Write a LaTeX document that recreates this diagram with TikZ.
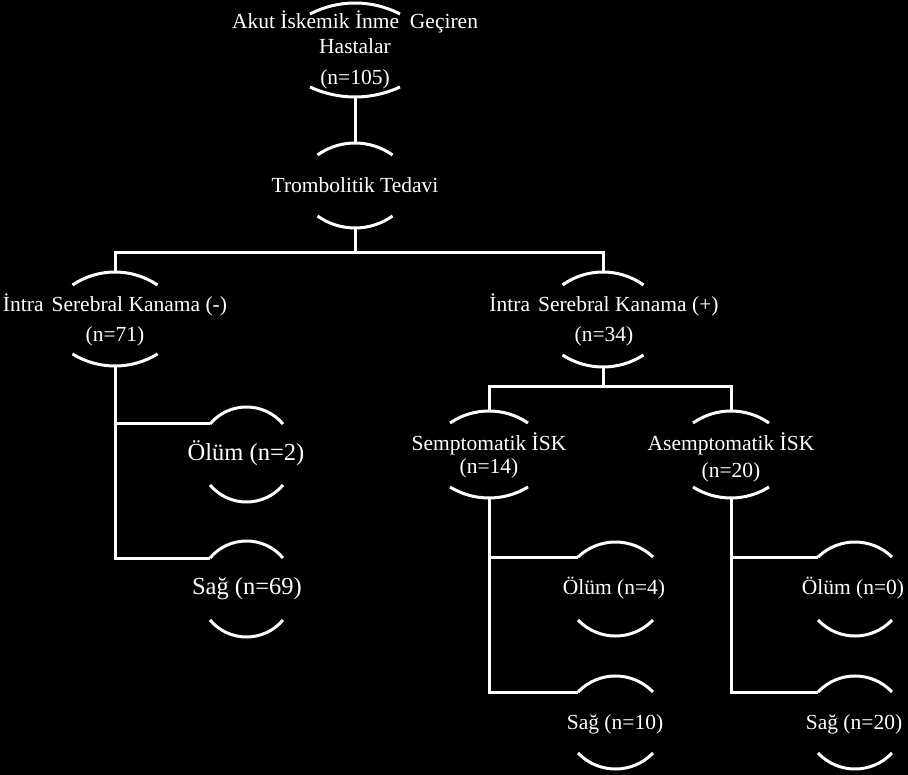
\documentclass[tikz,border=0pt]{standalone}
\usepackage{fontspec}
\setmainfont{Liberation Serif}
\newcommand\toparc[4]{%
 \pgfmathsetmacro\arcR{(#3*#3+#4*#4)/(2*#4)}%
 \pgfmathsetmacro\arcT{asin(#3/\arcR)}%
 \pgfmathsetmacro\arcK{4/3*tan(\arcT/2)*\arcR}%
 \pgfmathsetmacro\arcAx{#1-#3+\arcK*cos(\arcT)}%
 \pgfmathsetmacro\arcBx{#1+#3-\arcK*cos(\arcT)}%
 \pgfmathsetmacro\arcY{#2-\arcK*sin(\arcT)}%
 \draw[arcline] (#1-#3,#2) .. controls (\arcAx,\arcY) and (\arcBx,\arcY) .. (#1+#3,#2);}
\newcommand\botarc[4]{%
 \pgfmathsetmacro\arcR{(#3*#3+#4*#4)/(2*#4)}%
 \pgfmathsetmacro\arcT{asin(#3/\arcR)}%
 \pgfmathsetmacro\arcK{4/3*tan(\arcT/2)*\arcR}%
 \pgfmathsetmacro\arcAx{#1-#3+\arcK*cos(\arcT)}%
 \pgfmathsetmacro\arcBx{#1+#3-\arcK*cos(\arcT)}%
 \pgfmathsetmacro\arcY{#2+\arcK*sin(\arcT)}%
 \draw[arcline] (#1-#3,#2) .. controls (\arcAx,\arcY) and (\arcBx,\arcY) .. (#1+#3,#2);}
\tikzset{
 arcline/.style={draw=white, line width=3pt},
 conn/.style={draw=white, line width=3pt},
 lbl/.style={text=white, font=\fontsize{21.5}{25}\selectfont, align=center, inner sep=0pt},
 biglbl/.style={lbl, font=\fontsize{24.5}{28}\selectfont},
}
\begin{document}
\begin{tikzpicture}[x=1pt,y=-1pt]
\fill[black] (0,0) rectangle (908,775);
\useasboundingbox (0,0) rectangle (908,775);
% labels
\node[lbl] (n1) at (355,50) {Akut İskemik İnme\ \ Geçiren\\Hastalar\\[6pt](n=105)};
\node[lbl] (n2) at (355,185) {Trombolitik Tedavi};
\node[lbl] (n3) at (115,320) {İntra\hspace{8pt}Serebral Kanama (-)\\[5pt](n=71)};
\node[lbl] (n4) at (604,320) {İntra\hspace{8pt}Serebral Kanama (+)\\[5pt](n=34)};
\node[lbl] (n5) at (489,455) {Semptomatik İSK\\[-2pt](n=14)};
\node[lbl] (n6) at (731,457) {Asemptomatik İSK\\[2pt](n=20)};
\node[biglbl] (n7) at (246,453) {Ölüm (n=2)};
\node[biglbl] (n8) at (247,589) {Sağ (n=69)};
\node[lbl] (n9) at (614,588) {Ölüm (n=4)};
\node[lbl] (n10) at (615,724) {Sağ (n=10)};
\node[lbl] (n11) at (853,588) {Ölüm (n=0)};
\node[lbl] (n12) at (854,724) {Sağ (n=20)};
% arcs
\toparc{355}{14}{45}{11} \botarc{355}{87}{45}{10}
\toparc{355}{155}{37.5}{12} \botarc{355}{216}{37.5}{12}
\toparc{115}{285}{42.5}{13} \botarc{115}{354}{42.5}{12}
\toparc{603}{285}{40.5}{13} \botarc{603}{355}{40.5}{12}
\toparc{489}{423}{39}{12} \botarc{489}{487}{39}{11}
\toparc{731}{423}{38}{12} \botarc{731}{487}{38}{11}
\toparc{246.5}{424}{36.5}{17} \botarc{246.5}{485}{36.5}{17}
\toparc{246.5}{558}{36.5}{17} \botarc{246.5}{620}{36.5}{17}
\toparc{615.5}{557}{37.5}{15} \botarc{615.5}{620}{37.5}{16}
\toparc{615.5}{692}{37.5}{16} \botarc{615.5}{753}{37.5}{16}
\toparc{855}{557}{37}{15} \botarc{855}{620}{37}{16}
\toparc{855}{692}{37}{16} \botarc{855}{753}{37}{16}
% connection points
\coordinate (n1b) at (355,97);
\coordinate (n2t) at (355,143);
\coordinate (n2b) at (355,228);
\coordinate (bus1) at (355,253);
\coordinate (n3t) at (115,272);
\coordinate (n4t) at (603,272);
\coordinate (n3b) at (115,366);
\coordinate (n4b) at (603,367);
\coordinate (bus2) at (603,387);
\coordinate (n5t) at (489,411);
\coordinate (n6t) at (731,411);
\coordinate (n5b) at (489,498);
\coordinate (n6b) at (731,498);
\coordinate (n7l) at (210,424);
\coordinate (n8l) at (210,558);
\coordinate (n9l) at (578,557);
\coordinate (n10l) at (578,692);
\coordinate (n11l) at (818,557);
\coordinate (n12l) at (818,692);
% connectors
\draw[conn] (n1b) -- (n2t);
\draw[conn] (n2b) -- (bus1) -| (n3t);
\draw[conn] (bus1) -| (n4t);
\draw[conn] (n3b) |- (n7l);
\draw[conn] (n3b) |- (n8l);
\draw[conn] (n4b) -- (bus2) -| (n5t);
\draw[conn] (bus2) -| (n6t);
\draw[conn] (n5b) |- (n9l);
\draw[conn] (n5b) |- (n10l);
\draw[conn] (n6b) |- (n11l);
\draw[conn] (n6b) |- (n12l);
\end{tikzpicture}
\end{document}
